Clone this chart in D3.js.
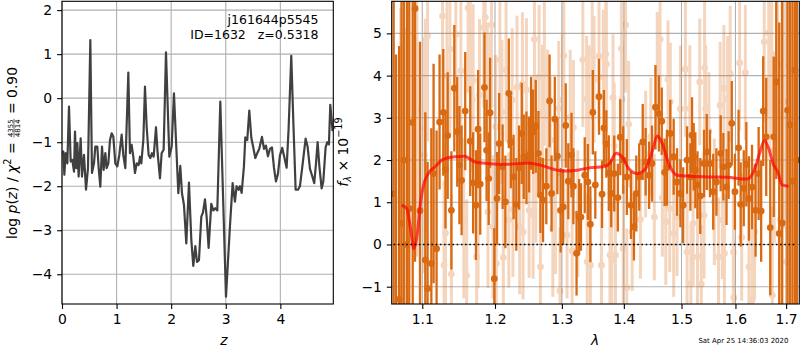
<!DOCTYPE html>
<html>
<head>
<meta charset="utf-8">
<script src="https://cdn.jsdelivr.net/npm/d3@7"></script>
<style>
body { margin: 0; background: #fff; }
svg text { font-family: "DejaVu Sans", sans-serif; }
</style>
</head>
<body>
<script>
// ---- left panel: log p(z) ----
var pzZ = [0.01,0.024,0.043,0.067,0.098,0.128,0.159,0.189,0.220,0.238,0.262,0.281,0.305,0.342,0.366,0.403,0.440,0.476,0.519,0.549,
    0.586,0.610,0.647,0.672,0.702,0.733,0.763,0.794,0.818,0.849,0.879,0.910,0.940,0.977,1.013,1.050,1.093,1.123,1.160,1.215,
    1.245,1.276,1.306,1.337,1.368,1.404,1.429,1.453,1.490,1.520,1.551,1.587,1.618,1.648,1.679,1.722,1.752,1.795,1.825,1.862,
    1.905,1.966,2.009,2.051,2.088,2.131,2.167,2.198,2.234,2.277,2.326,2.369,2.405,2.442,2.473,2.509,2.552,2.582,2.619,2.650,
    2.686,2.735,2.771,2.808,2.845,2.900,3.004,3.077,3.126,3.168,3.199,3.236,3.260,3.291,3.333,3.358,3.394,3.431,3.468,3.504,
    3.541,3.577,3.614,3.663,3.700,3.736,3.773,3.810,3.846,3.883,3.919,3.956,3.993,4.035,4.078,4.115,4.151,4.200,4.237,4.280,
    4.322,4.359,4.408,4.463,4.499,4.542,4.579,4.621,4.652,4.683,4.713,4.756,4.786,4.829,4.860,4.890,4.915,4.957];
var pzLog = [-1.25,-1.21,-1.74,-1.25,-1.48,-0.19,-1.44,-1.40,-1.67,-0.76,-1.59,-1.02,-1.78,-0.91,-1.78,-1.29,-2.08,-1.59,1.32,-1.70,
    -1.48,-1.10,-1.10,-1.59,-2.01,-1.10,-1.63,-1.25,-1.59,-1.48,-0.95,-0.80,-0.87,-1.48,-1.55,-1.29,-0.83,-1.29,-1.59,0.58,
    -1.25,-1.06,-1.33,-1.70,-1.48,-1.52,-1.33,-1.48,-0.95,0.26,-0.65,-1.29,-1.36,-1.25,-1.33,-0.66,-1.25,-1.82,-1.25,-1.17,
    1.04,-1.33,-1.10,0.11,-0.95,-2.16,-1.54,-2.16,-2.42,-3.30,-1.92,-3.22,-3.81,-3.36,-3.72,-3.68,-2.69,-2.60,-2.30,-2.70,
    -3.40,-2.40,-2.55,-2.50,-2.55,-0.08,-4.51,-2.90,-1.93,-2.35,-2.00,-2.08,-2.00,-2.15,-1.55,-0.89,-0.95,-0.28,-0.90,-1.12,
    -1.36,-1.25,-1.15,-0.88,-1.15,-1.08,-1.32,-1.15,-1.12,-1.58,-1.89,-1.72,-1.30,-1.13,-1.37,-1.58,-0.70,0.96,-0.50,-2.08,
    -2.08,-2.00,-1.50,-0.92,-1.10,-1.60,-1.75,-1.93,-1.50,-1.00,-1.52,-2.05,-1.90,-1.12,-1.00,-1.05,-0.15,-0.75];
var zTicks = [0, 1, 2, 3, 4];
var pTicks = [2, 1, 0, -1, -2, -3, -4];
var pTickLabels = ["2", "1", "0", "\u22121", "\u22122", "\u22123", "\u22124"];

// ---- right panel: spectrum ----
var darkLam = [1.063,1.066,1.070,1.073,1.076,1.080,1.083,1.0875,1.0905,1.097,1.104,1.107,1.112,1.115,1.119,1.123,1.128,1.131,1.134,1.139,
    1.143,1.147,1.150,1.153,1.158,1.165,1.169,1.173,1.176,1.179,1.185,1.188,1.191,1.193,1.199,1.203,1.206,1.211,1.215,1.220,
    1.223,1.227,1.231,1.235,1.239,1.242,1.246,1.250,1.253,1.256,1.260,1.264,1.267,1.271,1.276,1.281,1.284,1.289,1.293,1.298,
    1.302,1.306,1.310,1.315,1.318,1.323,1.327,1.330,1.336,1.341,1.345,1.349,1.353,1.359,1.364,1.367,1.371,1.375,1.379,1.384,
    1.390,1.394,1.399,1.405,1.412,1.417,1.421,1.426,1.432,1.437,1.443,1.448,1.454,1.460,1.465,1.470,1.474,1.480,1.486,1.492,
    1.498,1.503,1.510,1.516,1.519,1.522,1.525,1.529,1.534,1.541,1.546,1.552,1.558,1.564,1.572,1.577,1.583,1.587,1.593,1.599,
    1.606,1.610,1.616,1.621,1.626,1.632,1.639,1.645,1.650,1.654,1.660,1.668,1.675,1.680,1.686,1.692,1.703,1.708,1.713,1.718,1.722];
var darkFlux = [1.2,-1.5,-1.3,0.5,2.0,0.0,0.85,2.89,5.59,0.80,-0.37,-1.04,-0.45,1.68,-0.10,2.90,3.13,1.78,2.58,0.81,
    3.70,2.67,1.88,1.52,3.16,2.45,1.46,0.93,2.73,1.43,3.72,2.23,1.56,3.12,-0.81,1.09,2.39,1.84,1.01,3.58,
    2.43,1.60,0.95,1.82,2.63,2.08,2.05,2.13,2.87,2.67,2.80,2.16,1.17,1.05,1.38,3.40,1.21,2.97,2.09,0.81,
    0.89,2.82,1.50,2.12,1.38,-0.21,0.65,0.65,1.64,1.48,0.48,3.13,1.41,3.50,1.19,2.76,2.38,1.69,1.21,1.68,
    1.11,2.54,2.00,1.60,0.93,0.42,1.21,1.60,2.43,1.96,1.64,1.92,3.25,3.10,2.92,1.71,1.82,2.63,2.08,1.48,
    1.21,0.93,2.00,1.60,2.59,2.08,1.76,1.41,1.15,1.92,2.19,1.92,1.25,1.48,2.16,1.84,1.36,1.88,2.87,1.25,
    2.29,0.95,1.33,1.90,1.09,1.36,0.81,1.68,0.79,3.16,2.55,0.40,2.55,3.85,0.26,0.51,3.18,2.83,1.5,4.13,2.0];
var darkErr = [9,6,6,8,9,6,5,5,6,4,3.5,3.0,3.2,2.6,2.8,1.6,1.5,1.4,1.5,1.4,
    1.5,1.3,1.4,1.3,1.4,1.3,1.2,1.3,1.4,1.2,1.3,1.2,1.1,1.3,1.2,1.1,1.2,1.0,1.1,1.3,
    1.1,1.0,1.1,1.0,1.2,1.0,1.1,0.9,1.1,1.0,1.1,1.0,0.9,1.0,0.9,1.1,0.9,1.0,0.9,1.0,
    0.9,1.0,0.9,1.0,0.9,1.0,0.9,0.8,0.9,0.9,0.9,1.0,0.8,0.9,0.8,0.9,0.8,0.9,0.8,0.9,
    0.8,0.9,0.8,0.9,0.8,0.8,0.9,0.8,0.9,0.8,0.8,0.9,1.0,0.9,0.8,0.8,0.9,0.8,0.9,0.8,
    0.8,0.9,0.8,0.8,0.9,0.8,0.9,0.8,0.9,0.8,0.9,0.8,0.9,0.8,0.9,0.8,0.9,0.8,1.0,0.9,
    0.9,1.0,0.9,1.0,1.0,1.0,1.1,1.1,1.2,1.3,1.4,1.6,1.9,2.3,5.0,6.0,5.0,6.0,8.0,9.0,10];

var lightLam = [1.072,1.0775,1.093,1.103,1.104,1.107,1.127,1.129,1.131,1.133,
    1.137,1.139,1.145,1.152,1.156,1.160,1.162,1.165,1.168,1.169,
    1.174,1.176,1.178,1.184,1.186,1.189,1.190,1.193,1.195,1.197,
    1.201,1.202,1.207,1.210,1.212,1.216,1.220,1.225,1.226,1.232,
    1.236,1.240,1.241,1.246,1.250,1.256,1.258,1.260,1.265,1.267,
    1.270,1.273,1.278,1.282,1.286,1.290,1.295,1.297,1.301,1.303,
    1.308,1.313,1.316,1.318,1.325,1.333,1.339,1.340,1.343,1.345,
    1.348,1.351,1.359,1.363,1.366,1.370,1.371,1.377,1.380,1.382,
    1.384,1.386,1.396,1.397,1.399,1.403,1.405,1.408,1.414,1.428,
    1.437,1.446,1.452,1.457,1.459,1.462,1.466,1.472,1.476,1.479,
    1.480,1.486,1.492,1.498,1.507,1.510,1.515,1.517,1.521,1.529,
    1.533,1.536,1.541,1.542,1.544,1.550,1.560,1.568,1.571,1.575,
    1.578,1.579,1.585,1.590,1.596,1.597,1.608,1.612,1.619,1.626,
    1.632,1.637,1.656,1.665,1.667,1.671,1.672,1.676,1.683,1.688,
    1.692,1.695,1.701];
var lightFlux = [1.10,1.13,3.21,2.12,2.75,4.94,5.41,-0.49,0.27,3.99,
    4.63,-0.70,4.98,4.11,0.62,-0.73,5.60,5.39,3.42,3.89,
    -0.29,0.67,3.54,5.14,5.38,3.56,0.77,3.30,5.20,0.42,
    2.79,-0.45,4.38,3.14,-0.31,4.13,0.58,3.42,0.83,3.72,
    0.42,3.80,0.30,3.66,0.81,0.69,4.86,1.64,3.97,-0.53,
    3.13,4.04,3.02,2.47,0.36,0.80,3.22,-1.10,3.42,4.47,
    0.22,3.01,-0.15,2.77,0.73,4.38,3.44,-0.41,3.22,-0.49,
    4.56,3.91,4.46,-0.49,3.96,4.51,4.27,-0.25,-0.37,3.48,
    2.33,-0.25,4.64,3.44,-0.10,5.20,-1.02,2.85,0.30,0.59,
    2.14,2.55,0.65,4.11,3.91,4.86,1.11,0.54,3.91,0.85,
    3.38,0.26,0.65,3.21,4.15,-0.18,3.22,-0.92,0.50,-0.29,
    3.85,-0.94,0.69,4.19,3.22,2.68,1.01,-0.29,3.30,0.58,
    3.70,-0.21,3.44,4.05,-0.18,-1.26,4.30,0.17,4.07,-0.53,
    -1.32,0.30,4.80,5.02,3.91,4.52,-1.20,2.23,4.19,0.58,
    4.25,3.38,-0.41];
var lightErr = [4.5,4.0,3.5,2.8,2.6,2.5,2.2,2.0,2.1,2.0,
    2.0,1.9,2.0,1.8,1.9,1.8,2.0,1.9,1.7,1.8,
    1.8,1.7,1.8,1.9,1.8,1.7,1.8,1.7,1.9,1.7,
    1.7,1.6,1.8,1.7,1.6,1.7,1.6,1.7,1.6,1.7,
    1.6,1.7,1.6,1.7,1.6,1.5,1.7,1.6,1.7,1.5,
    1.6,1.7,1.6,1.5,1.6,1.5,1.6,1.5,1.6,1.7,
    1.5,1.6,1.5,1.6,1.5,1.6,1.5,1.6,1.5,1.6,
    1.6,1.5,1.6,1.5,1.6,1.5,1.6,1.5,1.4,1.5,
    1.5,1.4,1.5,1.4,1.5,1.6,1.4,1.5,1.4,1.4,
    1.5,1.4,1.5,1.4,1.5,1.6,1.4,1.5,1.4,1.5,
    1.4,1.5,1.4,1.5,1.6,1.4,1.5,1.4,1.5,1.4,
    1.5,1.4,1.5,1.6,1.5,1.4,1.5,1.4,1.5,1.4,
    1.5,1.4,1.5,1.6,1.5,1.4,1.6,1.5,1.6,1.6,
    1.7,1.6,1.9,2.0,1.9,2.0,2.1,2.2,2.4,2.6,
    2.8,3.0,3.5];

var modelLam = [1.0732,1.080,1.085,1.089,1.093,1.097,1.101,1.108,1.117,1.127,1.143,1.157,1.171,1.189,1.217,1.247,1.267,1.287,1.302,1.324,
    1.345,1.366,1.377,1.387,1.397,1.408,1.423,1.437,1.448,1.457,1.466,1.477,1.492,1.510,1.547,1.584,1.622,1.635,1.647,1.656,
    1.665,1.675,1.683,1.692,1.705];
var modelFlux = [0.93,0.85,0.34,-0.10,0.18,0.89,1.36,1.68,1.84,2.01,2.08,2.09,1.96,1.92,1.90,1.93,1.88,1.78,1.74,1.76,
    1.82,1.84,1.93,2.16,2.08,1.80,1.68,1.80,2.19,2.57,2.39,1.92,1.64,1.62,1.60,1.59,1.55,1.72,2.16,2.46,
    2.27,1.88,1.72,1.41,1.38];
var zeroRange = [1.063, 1.722];

var lamTicks = [1.1, 1.2, 1.3, 1.4, 1.5, 1.6, 1.7];
var fTicks = [5, 4, 3, 2, 1, 0, -1];
var fTickLabels = ["5", "4", "3", "2", "1", "0", "\u22121"];

var objName = "j161644p5545";
var objInfo = "ID=1632   z=0.5318";
var stamp = "Sat Apr 25 14:36:03 2020";

// ---- setup ----
var svg = d3.select("body").append("svg")
    .attr("width", 800)
    .attr("height", 350);

var fs = 13.9;
var tickLen = 4.9;
var gridColor = "#b0b0b0";
var orange = "#d96a12";

// panel boxes
var L = {x0: 62, x1: 333.3, y0: 1.3, y1: 304};
var R = {x0: 391.7, x1: 799.3, y0: 1.3, y1: 304};

var xz = d3.scaleLinear().domain([0, 4.97]).range([L.x0, L.x1]);
var yp = d3.scaleLinear().domain([-4.675, 2.2]).range([L.y1, L.y0]);

var xl = d3.scaleLog().domain([1.0605, 1.727]).range([R.x0, R.x1]);
var yf = d3.scaleLinear().domain([-1.41, 5.76]).range([R.y1, R.y0]);

var defs = svg.append("defs");
[["clipL", L], ["clipR", R]].forEach(function(c) {
    defs.append("clipPath").attr("id", c[0])
        .append("rect")
        .attr("x", c[1].x0).attr("y", c[1].y0)
        .attr("width", c[1].x1 - c[1].x0).attr("height", c[1].y1 - c[1].y0);
});

function drawGrid(box, xs, ys, xt, yt) {
    var g = svg.append("g").attr("class", "grid");
    g.selectAll(".gx").data(xt).enter().append("line")
        .attr("x1", xs).attr("x2", xs)
        .attr("y1", box.y0).attr("y2", box.y1)
        .attr("stroke", gridColor).attr("stroke-width", 1.1);
    g.selectAll(".gy").data(yt).enter().append("line")
        .attr("x1", box.x0).attr("x2", box.x1)
        .attr("y1", ys).attr("y2", ys)
        .attr("stroke", gridColor).attr("stroke-width", 1.1);
}

function drawAxes(box, xs, ys, xt, xfmt, yt, yfmt) {
    var ax = svg.append("g")
        .attr("transform", "translate(0," + box.y1 + ")")
        .call(d3.axisBottom(xs).tickValues(xt).tickFormat(xfmt).tickSize(tickLen).tickPadding(4.9));
    var ay = svg.append("g")
        .attr("transform", "translate(" + box.x0 + ",0)")
        .call(d3.axisLeft(ys).tickValues(yt).tickFormat(yfmt).tickSize(tickLen).tickPadding(4.9));
    [ax, ay].forEach(function(a) {
        a.select(".domain").remove();
        a.selectAll("line").attr("stroke", "#000").attr("stroke-width", 1.1);
        a.selectAll("text").attr("font-size", fs).attr("fill", "#000")
            .attr("font-family", "DejaVu Sans, sans-serif");
    });
    svg.append("rect")
        .attr("x", box.x0).attr("y", box.y0)
        .attr("width", box.x1 - box.x0).attr("height", box.y1 - box.y0)
        .attr("fill", "none").attr("stroke", "#000").attr("stroke-width", 1.1);
}

// ---- left panel ----
drawGrid(L, xz, yp, zTicks, pTicks);

var pz = pzZ.map(function(z, i) { return [z, pzLog[i]]; });
svg.append("path")
    .datum(pz)
    .attr("clip-path", "url(#clipL)")
    .attr("fill", "none")
    .attr("stroke", "#404040")
    .attr("stroke-width", 2.2)
    .attr("stroke-linejoin", "round")
    .attr("d", d3.line().x(function(d) { return xz(d[0]); }).y(function(d) { return yp(d[1]); }));

drawAxes(L, xz, yp, zTicks, function(d) { return String(d); },
    pTicks, function(d, i) { return pTickLabels[i]; });

svg.append("text").attr("x", 318.5).attr("y", 23.5)
    .attr("text-anchor", "end").attr("font-size", 12.5).text(objName);
svg.append("text").attr("x", 318.5).attr("y", 38.5)
    .attr("text-anchor", "end").attr("font-size", 12.5).attr("xml:space", "preserve")
    .style("white-space", "pre").text(objInfo);

// ---- right panel ----
drawGrid(R, xl, yf, lamTicks, fTicks);

var spec = svg.append("g").attr("clip-path", "url(#clipR)");

function errorSeries(lam, flux, err, opacity, w) {
    var pts = lam.map(function(l, i) { return {l: l, f: flux[i], e: err[i]}; });
    var g = spec.append("g").attr("opacity", opacity);
    g.selectAll("line").data(pts).enter().append("line")
        .attr("x1", function(d) { return xl(d.l); })
        .attr("x2", function(d) { return xl(d.l); })
        .attr("y1", function(d) { return yf(d.f - d.e); })
        .attr("y2", function(d) { return yf(d.f + d.e); })
        .attr("stroke", orange).attr("stroke-width", w);
    g.selectAll("circle").data(pts).enter().append("circle")
        .attr("cx", function(d) { return xl(d.l); })
        .attr("cy", function(d) { return yf(d.f); })
        .attr("r", 3.4)
        .attr("fill", orange);
}

errorSeries(lightLam, lightFlux, lightErr, 0.28, 3);
errorSeries(darkLam, darkFlux, darkErr, 1, 2.3);

var model = modelLam.map(function(l, i) { return [l, modelFlux[i]]; });
spec.append("path")
    .datum(model)
    .attr("fill", "none")
    .attr("stroke", "#ff0000")
    .attr("stroke-opacity", 0.7)
    .attr("stroke-width", 3)
    .attr("d", d3.line().curve(d3.curveMonotoneX)
        .x(function(d) { return xl(d[0]); }).y(function(d) { return yf(d[1]); }));

spec.append("line")
    .attr("x1", xl(zeroRange[0])).attr("x2", xl(zeroRange[1]))
    .attr("y1", yf(0)).attr("y2", yf(0))
    .attr("stroke", "#000").attr("stroke-width", 1.6)
    .attr("stroke-dasharray", "1.6,2.6");

drawAxes(R, xl, yf, lamTicks, d3.format(".1f"),
    fTicks, function(d, i) { return fTickLabels[i]; });

// ---- axis labels ----
svg.append("text").attr("x", 224).attr("y", 345)
    .attr("text-anchor", "middle").attr("font-size", fs)
    .attr("font-style", "italic").text("z");
svg.append("text").attr("x", 595).attr("y", 345)
    .attr("text-anchor", "middle").attr("font-size", fs)
    .attr("font-style", "italic").text("\u03bb");

// rotated label built from pieces (mathtext-like)
function mathLabel(cx, cy, pieces) {
    var outer = svg.append("g").attr("transform", "translate(" + cx + "," + cy + ") rotate(-90)");
    var g = outer.append("g");
    var x = 0;
    pieces.forEach(function(p) {
        if (p.frac) {
            var s = fs * 0.5;
            var num = g.append("text").attr("font-size", s).attr("y", -4.2).text(p.frac[0]);
            var den = g.append("text").attr("font-size", s).attr("y", 2.8).text(p.frac[1]);
            var w = Math.max(num.node().getComputedTextLength(), den.node().getComputedTextLength()) + 2;
            num.attr("x", x + w / 2).attr("text-anchor", "middle");
            den.attr("x", x + w / 2).attr("text-anchor", "middle");
            g.append("line").attr("x1", x + 0.5).attr("x2", x + w - 0.5)
                .attr("y1", -3).attr("y2", -3)
                .attr("stroke", "#000").attr("stroke-width", 0.6);
            x += w;
        } else {
            var t = g.append("text")
                .attr("x", x)
                .attr("y", -(p.shift || 0) * fs)
                .attr("font-size", fs * (p.scale || 1))
                .attr("font-style", p.italic ? "italic" : "normal")
                .style("white-space", "pre")
                .text(p.t);
            x += t.node().getComputedTextLength();
        }
    });
    g.attr("transform", "translate(" + (-x / 2) + ",0)");
}

mathLabel(17, 153, [
    {t: "log "}, {t: "p", italic: true}, {t: "("}, {t: "z", italic: true}, {t: ") / "},
    {t: "\u03c7", italic: true}, {t: "2", scale: 0.7, shift: 0.45}, {t: " = "},
    {frac: ["4355", "4814"]}, {t: " = 0.90"}
]);

mathLabel(348, 152, [
    {t: "f", italic: true}, {t: "\u03bb", italic: true, scale: 0.7, shift: -0.2},
    {t: " \u00d7 10"}, {t: "\u221219", scale: 0.7, shift: 0.45}
]);

svg.append("text").attr("x", 788.3).attr("y", 343)
    .attr("text-anchor", "end").attr("font-size", 6.94).text(stamp);
</script>
</body>
</html>
